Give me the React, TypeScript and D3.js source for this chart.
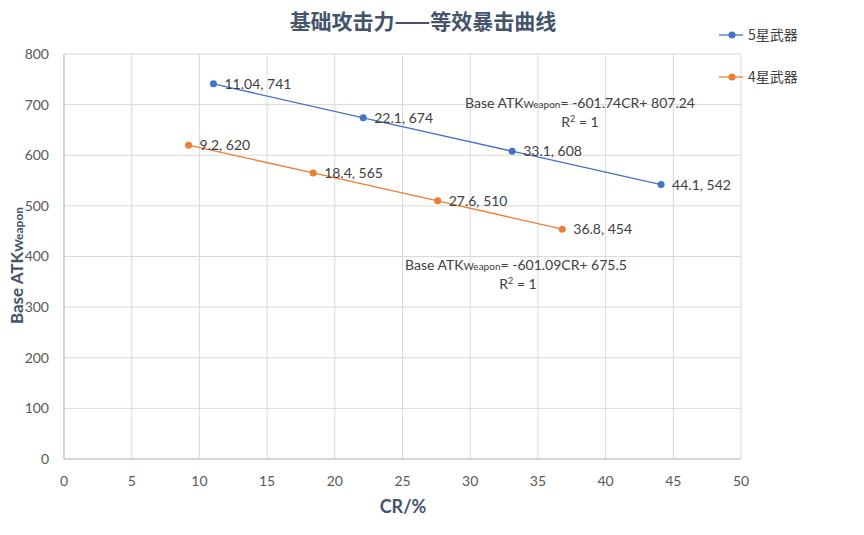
import * as d3 from "d3";

const TITLE = "基础攻击力——等效暴击曲线";
const SERIES_NAMES = ["5星武器", "4星武器"];
const SERIES_COLORS = ["#4472C4", "#ED7D31"];
const CR_5STAR = [11.04, 22.1, 33.1, 44.1];
const ATK_5STAR = [741, 674, 608, 542];
const CR_4STAR = [9.2, 18.4, 27.6, 36.8];
const ATK_4STAR = [620, 565, 510, 454];
const X_TICKS = [0, 5, 10, 15, 20, 25, 30, 35, 40, 45, 50];
const Y_TICKS = [0, 100, 200, 300, 400, 500, 600, 700, 800];
const TREND_TEXT = ["= -601.74CR+ 807.24", "= -601.09CR+ 675.5"];

const W = 864;
const H = 535;
const MARGIN = { top: 54, right: 123, bottom: 76, left: 64 };
const FONT = "Lato, 'Noto Sans CJK SC', sans-serif";
const CJK = "'Noto Sans CJK SC', Lato, sans-serif";

export default function App() {
  const x = d3.scaleLinear().domain([0, 50]).range([MARGIN.left, W - MARGIN.right]);
  const y = d3.scaleLinear().domain([0, 800]).range([H - MARGIN.bottom, MARGIN.top]);
  const line = d3
    .line<[number, number]>()
    .x((d) => x(d[0]))
    .y((d) => y(d[1]));

  const series = [
    { name: SERIES_NAMES[0], color: SERIES_COLORS[0], pts: CR_5STAR.map((c, i) => [c, ATK_5STAR[i]] as [number, number]) },
    { name: SERIES_NAMES[1], color: SERIES_COLORS[1], pts: CR_4STAR.map((c, i) => [c, ATK_4STAR[i]] as [number, number]) },
  ];

  // equation labels sit where Excel put them
  const trends = [
    { x: 580, y: 108, r2x: 580, r2y: 127, text: TREND_TEXT[0] },
    { x: 516, y: 270, r2x: 518, r2y: 289, text: TREND_TEXT[1] },
  ];

  return (
    <svg width={W} height={H} style={{ display: "block", margin: -8, background: "#fff" }}>
      {/* grid */}
      {Y_TICKS.map((t) => (
        <line key={"gy" + t} x1={x(0)} x2={x(50)} y1={y(t)} y2={y(t)} stroke="#d9d9d9" strokeWidth={1} />
      ))}
      {X_TICKS.map((t) => (
        <line key={"gx" + t} x1={x(t)} x2={x(t)} y1={y(0)} y2={y(800)} stroke="#d9d9d9" strokeWidth={1} />
      ))}
      <line x1={x(0)} x2={x(50)} y1={y(0)} y2={y(0)} stroke="#bfbfbf" />
      <line x1={x(0)} x2={x(0)} y1={y(0)} y2={y(800)} stroke="#bfbfbf" />

      {/* tick labels */}
      {Y_TICKS.map((t) => (
        <text key={"ty" + t} x={x(0) - 15} y={y(t)} dy="0.35em" textAnchor="end" fontFamily={FONT} fontSize={14} fill="#595959">
          {t}
        </text>
      ))}
      {X_TICKS.map((t) => (
        <text key={"tx" + t} x={x(t)} y={y(0) + 27} textAnchor="middle" fontFamily={FONT} fontSize={14} fill="#595959">
          {t}
        </text>
      ))}

      {/* series */}
      {series.map((s) => (
        <g key={s.name}>
          <path d={line(s.pts) ?? ""} fill="none" stroke={s.color} strokeWidth={1.3} />
          {s.pts.map((p, i) => (
            <g key={i}>
              <circle cx={x(p[0])} cy={y(p[1])} r={3.5} fill={s.color} />
              <text x={x(p[0]) + 11} y={y(p[1])} dy="0.36em" fontFamily={FONT} fontSize={14} fill="#404040">
                {`${p[0]}, ${p[1]}`}
              </text>
            </g>
          ))}
        </g>
      ))}

      {/* trendline equations */}
      {trends.map((t, i) => (
        <g key={"tr" + i} fontFamily={FONT} fontSize={14} fill="#404040">
          <text x={t.x} y={t.y} textAnchor="middle">
            Base ATK<tspan fontSize={10}>Weapon</tspan>
            {t.text}
          </text>
          <text x={t.r2x} y={t.r2y} textAnchor="middle">
            R<tspan fontSize={9} dy={-5}>2</tspan>
            <tspan dy={5}> = 1</tspan>
          </text>
        </g>
      ))}

      {/* title */}
      <text x={423} y={29} textAnchor="middle" fontFamily={CJK} fontSize={21} fontWeight="bold" fill="#44546A">
        {TITLE}
      </text>

      {/* axis titles */}
      <text x={403} y={513} textAnchor="middle" fontFamily={FONT} fontSize={18} fontWeight="bold" fill="#44546A">
        CR/%
      </text>
      <text
        transform={`translate(23, ${y(400) + 9}) rotate(-90)`}
        textAnchor="middle"
        fontFamily={FONT}
        fontSize={17}
        fontWeight="bold"
        fill="#44546A"
      >
        Base ATK<tspan fontSize={12}>Weapon</tspan>
      </text>

      {/* legend */}
      {series.map((s, i) => {
        const ly = 35 + i * 42;
        return (
          <g key={"lg" + i}>
            <line x1={719} x2={743} y1={ly} y2={ly} stroke={s.color} strokeWidth={1.3} />
            <circle cx={732} cy={ly} r={3.5} fill={s.color} />
            <text x={748} y={ly} dy="0.36em" fontFamily={CJK} fontSize={14} fill="#404040">
              {s.name}
            </text>
          </g>
        );
      })}
    </svg>
  );
}
